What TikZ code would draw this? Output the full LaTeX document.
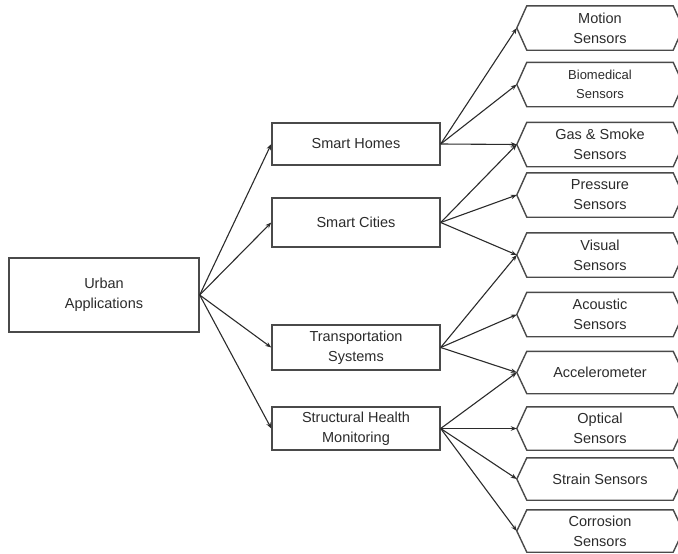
\documentclass[tikz,border=0pt]{standalone}
\usepackage{fontspec}
\setmainfont{Liberation Sans}
\usetikzlibrary{arrows.meta}
\definecolor{ink}{HTML}{2B2B2B}
\definecolor{frame}{HTML}{4A4A4A}
\begin{document}
\begin{tikzpicture}[x=1pt,y=-1pt,
  every node/.style={font=\fontsize{14.5}{20}\selectfont, text=ink, align=center, inner sep=0pt},
  box/.style={draw=frame, line width=1.4pt, rectangle, minimum width=168pt},
  sensorbox/.style={rectangle, minimum width=166pt, minimum height=44pt},
  hexline/.style={draw=frame, line width=1.4pt, line join=miter},
  link/.style={draw=ink, line width=1.1pt, -{Stealth[length=6pt,width=4.5pt]}}
]
\useasboundingbox (0,0) rectangle (678,554);

% root
\node[box, minimum width=190pt, minimum height=74pt] (root) at (104,295) {Urban\\Applications};

% application areas
\node[box, minimum height=42pt] (homes)  at (356,144)   {Smart Homes};
\node[box, minimum height=49pt] (cities) at (356,222.5) {Smart Cities};
\node[box, minimum height=45pt] (trans)  at (356,347.5) {Transportation\\Systems};
\node[box, minimum height=43pt] (shm)    at (356,428.5) {Structural Health\\Monitoring};

% sensor types
\node[sensorbox] (motion)  at (600,28)    {Motion\\Sensors};
\node[sensorbox, font=\fontsize{13}{19}\selectfont] (bio) at (600,84.5) {Biomedical\\Sensors};
\node[sensorbox] (gas)     at (600,144.5) {Gas \& Smoke\\Sensors};
\node[sensorbox] (press)   at (600,195)   {Pressure\\Sensors};
\node[sensorbox] (visual)  at (600,255)   {Visual\\Sensors};
\node[sensorbox] (acou)    at (600,314.5) {Acoustic\\Sensors};
\node[sensorbox, minimum height=42pt] (accel) at (600,372.5) {Accelerometer};
\node[sensorbox, minimum height=43pt] (optic) at (600,428.5) {Optical\\Sensors};
\node[sensorbox, minimum height=42pt] (strain) at (600,479) {Strain Sensors};
\node[sensorbox, minimum height=42pt] (corr)  at (600,531) {Corrosion\\Sensors};

% hexagonal outlines of the sensor nodes
\foreach \n in {motion,bio,gas,press,visual,acou,accel,optic,strain,corr}{
  \path[hexline] ([xshift=10pt]\n.north west) -- (\n.west) -- ([xshift=10pt]\n.south west)
    -- ([xshift=-10pt]\n.south east) -- (\n.east) -- ([xshift=-10pt]\n.north east) -- cycle;
}

% root to areas
\foreach \t in {homes,cities,trans,shm}
  \draw[link] (root.east) -- (\t.west);

% areas to sensors
\foreach \t in {motion,bio,gas} \draw[link] (homes.east) -- (\t.west);
\foreach \t in {gas,press,visual} \draw[link] (cities.east) -- (\t.west);
\foreach \t in {visual,acou,accel} \draw[link] (trans.east) -- (\t.west);
\foreach \t in {accel,optic,strain,corr} \draw[link] (shm.east) -- (\t.west);
\end{tikzpicture}
\end{document}
